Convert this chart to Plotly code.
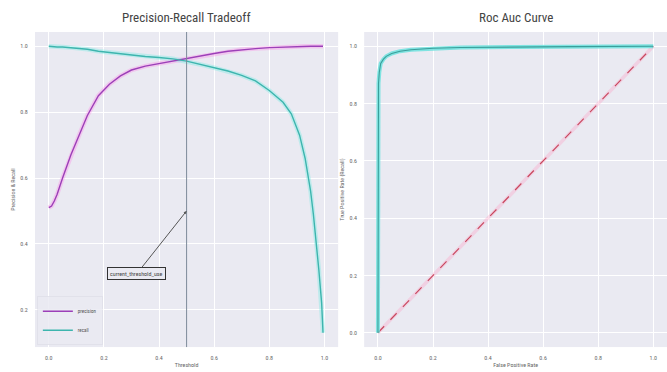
import plotly.graph_objects as go

# ---- data ----
thresholds = [0.0, 0.01, 0.02, 0.03, 0.05, 0.08, 0.11, 0.14, 0.18, 0.22, 0.26, 0.30,
              0.35, 0.40, 0.45, 0.50, 0.55, 0.60, 0.65, 0.70, 0.75, 0.80, 0.85, 0.88,
              0.91, 0.93, 0.95, 0.96, 0.97, 0.98, 0.99, 0.995]
precision = [0.51, 0.515, 0.53, 0.55, 0.60, 0.67, 0.73, 0.79, 0.85, 0.885, 0.91, 0.928,
             0.94, 0.948, 0.955, 0.962, 0.970, 0.978, 0.985, 0.990, 0.993, 0.996, 0.998, 0.999,
             0.9995, 1.0, 1.0, 1.0, 1.0, 1.0, 1.0, 1.0]
recall = [1.0, 0.999, 0.999, 0.998, 0.998, 0.996, 0.994, 0.991, 0.985, 0.981, 0.977, 0.973,
          0.969, 0.966, 0.962, 0.955, 0.945, 0.935, 0.925, 0.912, 0.895, 0.866, 0.83, 0.795,
          0.73, 0.66, 0.56, 0.49, 0.41, 0.32, 0.22, 0.13]

fpr = [0.0, 0.0, 0.0, 0.002, 0.005, 0.01, 0.02, 0.03, 0.05, 0.08, 0.12, 0.2, 0.3, 0.5, 0.7, 1.0]
tpr = [0.0, 0.5, 0.8, 0.87, 0.91, 0.94, 0.955, 0.965, 0.975, 0.983, 0.988, 0.993, 0.996, 0.998, 0.999, 1.0]
diag = [0.0, 1.0]

current_threshold = 0.5
ticks = [0.0, 0.2, 0.4, 0.6, 0.8, 1.0]
tick_text = ["0.0", "0.2", "0.4", "0.6", "0.8", "1.0"]

FONT = "Liberation Sans Narrow, Roboto Condensed, Liberation Sans, Arial, sans-serif"
BG = "#eaeaf2"

fig = go.Figure()

# precision / recall with glow
fig.add_trace(go.Scatter(x=thresholds, y=precision, mode="lines", showlegend=False, hoverinfo="skip",
                         line=dict(color="rgba(255,120,230,0.3)", width=4.5), xaxis="x", yaxis="y"))
fig.add_trace(go.Scatter(x=thresholds, y=recall, mode="lines", showlegend=False, hoverinfo="skip",
                         line=dict(color="rgba(110,235,225,0.35)", width=4.5), xaxis="x", yaxis="y"))
fig.add_trace(go.Scatter(x=thresholds, y=precision, mode="lines", name="precision",
                         line=dict(color="#9c3fb8", width=1.4), xaxis="x", yaxis="y"))
fig.add_trace(go.Scatter(x=thresholds, y=recall, mode="lines", name="recall",
                         line=dict(color="#3db5ae", width=1.4), xaxis="x", yaxis="y"))

# ROC
fig.add_trace(go.Scatter(x=diag, y=diag, mode="lines", showlegend=False, hoverinfo="skip",
                         line=dict(color="rgba(255,150,190,0.3)", width=3.5), xaxis="x2", yaxis="y2"))
fig.add_trace(go.Scatter(x=diag, y=diag, mode="lines", showlegend=False,
                         line=dict(color="#c8485e", width=1.2, dash="dash"), xaxis="x2", yaxis="y2"))
fig.add_trace(go.Scatter(x=fpr, y=tpr, mode="lines", showlegend=False, hoverinfo="skip",
                         line=dict(color="rgba(100,225,220,0.8)", width=4), xaxis="x2", yaxis="y2"))
fig.add_trace(go.Scatter(x=fpr, y=tpr, mode="lines", showlegend=False,
                         line=dict(color="#3a9e9a", width=1.1), xaxis="x2", yaxis="y2"))

axis_common = dict(
    showgrid=True, gridcolor="white", gridwidth=1, zeroline=False, showline=False,
    tickvals=ticks, ticktext=tick_text, tickfont=dict(size=6, color="#666", family=FONT),
    ticks="outside", ticklen=5, tickcolor="rgba(0,0,0,0)",
)

fig.update_layout(
    width=667, height=372,
    margin=dict(l=0, r=0, t=0, b=0),
    paper_bgcolor="white", plot_bgcolor=BG,
    font=dict(family=FONT, color="#555"),
    xaxis=dict(domain=[0.0525, 0.507], range=[-0.05, 1.05], anchor="y",
               title=dict(text="Threshold", font=dict(size=6, color="#666"), standoff=2), **axis_common),
    yaxis=dict(domain=[0.067, 0.914], range=[0.0865, 1.0435], anchor="x",
               title=dict(text="Precision & Recall", font=dict(size=6, color="#666"), standoff=4), **axis_common),
    xaxis2=dict(domain=[0.546, 1.0], range=[-0.05, 1.05], anchor="y2",
                title=dict(text="False Positive Rate", font=dict(size=6, color="#666"), standoff=2), **axis_common),
    yaxis2=dict(domain=[0.067, 0.914], range=[-0.05, 1.05], anchor="x2",
                title=dict(text="True Positive Rate (Recall)", font=dict(size=6, color="#666"), standoff=4), **axis_common),
    legend=dict(x=0.056, y=0.072, xanchor="left", yanchor="bottom",
                bgcolor="rgba(234,234,242,0.85)", bordercolor="rgba(215,215,225,0.9)", borderwidth=0.5,
                font=dict(size=5, color="#555"), itemwidth=30, tracegroupgap=0),
    showlegend=True,
)

fig.add_shape(type="line", x0=current_threshold, x1=current_threshold, y0=0, y1=1,
              xref="x", yref="y domain", line=dict(color="#7d8b9a", width=1))

fig.add_annotation(x=current_threshold, y=0.5, xref="x", yref="y",
                   ax=0.32, ay=0.31, axref="x", ayref="y",
                   text="current_threshold_use", showarrow=True, arrowhead=2, arrowsize=0.6,
                   arrowwidth=1, arrowcolor="#555",
                   font=dict(size=6, color="#444", family=FONT),
                   bordercolor="#333", borderwidth=1, borderpad=2, bgcolor=BG)

fig.add_annotation(text="Precision-Recall Tradeoff", x=0.2795, y=0.952, xref="paper", yref="paper",
                   xanchor="center", yanchor="middle",
                   showarrow=False, font=dict(size=13, color="#444", family=FONT))
fig.add_annotation(text="Roc Auc Curve", x=0.773, y=0.952, xref="paper", yref="paper",
                   xanchor="center", yanchor="middle",
                   showarrow=False, font=dict(size=13, color="#444", family=FONT))

fig.write_html("out.html")
